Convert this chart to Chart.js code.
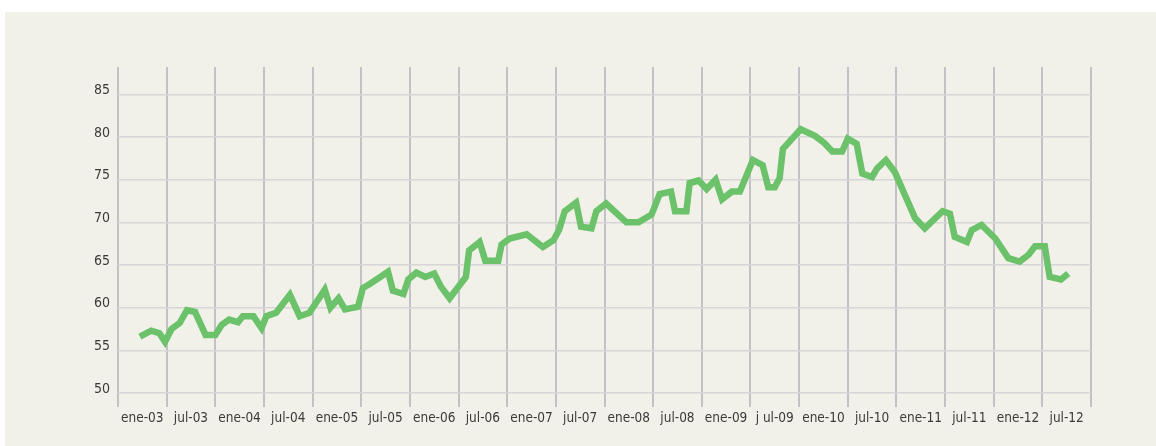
<!DOCTYPE html>
<html lang="es">
<head>
  <meta charset="UTF-8">
  <title>Serie mensual 2003-2012</title>
  <script src="https://cdn.jsdelivr.net/npm/chart.js"></script>
  <style>
    body {
      margin: 0;
      background-color: #fff;
      width: 1156px;
      height: 446px;
      overflow: hidden;
    }
    #panel {
      position: absolute;
      left: 5px;
      top: 12px;
      width: 1151px;
      height: 434px;
      background-color: #f2f1e9;
    }
  </style>
</head>
<body>
  <div id="panel">
    <canvas id="chart" width="1151" height="434"></canvas>
  </div>

  <script>
    // months since ene-03 (axis runs 0..120, one gridline every 6 months)
    const months = [
      2.7, 4.1, 5.1, 5.8, 6.6, 7.6, 8.5, 9.5, 10.8, 12.0,
      12.8, 13.7, 14.8, 15.4, 16.7, 17.7, 18.3, 19.5, 21.2, 22.4,
      23.6, 25.5, 26.2, 27.2, 28.0, 29.6, 30.2, 31.1, 33.3, 33.9,
      35.2, 35.8, 36.8, 37.9, 39.0, 39.8, 40.9, 42.9, 43.3, 44.6,
      45.3, 46.9, 47.3, 48.3, 50.4, 52.4, 53.7, 54.4, 55.1, 56.5,
      57.1, 58.4, 59.0, 60.2, 62.7, 64.2, 65.8, 66.8, 68.2, 68.7,
      70.1, 70.5, 71.6, 72.6, 73.7, 74.5, 75.7, 76.7, 78.3, 79.5,
      80.2, 81.0, 81.6, 82.0, 84.2, 86.0, 87.1, 88.1, 89.3, 90.0,
      91.1, 91.8, 93.0, 93.6, 94.7, 95.8, 98.3, 99.5, 101.7, 102.6,
      103.2, 104.7, 105.3, 106.5, 108.2, 109.8, 111.2, 112.3, 113.1, 114.3,
      114.9, 116.3, 117.2
    ];
    const values = [
      56.6, 57.3, 57.0, 56.0, 57.5, 58.2, 59.7, 59.5, 56.8, 56.8,
      58.0, 58.6, 58.3, 59.0, 59.0, 57.6, 59.0, 59.4, 61.5, 59.0,
      59.4, 62.1, 60.0, 61.1, 59.8, 60.1, 62.3, 62.8, 64.2, 62.0,
      61.6, 63.3, 64.1, 63.6, 64.0, 62.5, 61.1, 63.6, 66.7, 67.7,
      65.5, 65.5, 67.4, 68.1, 68.6, 67.1, 67.9, 69.1, 71.3, 72.3,
      69.5, 69.3, 71.3, 72.2, 70.0, 70.0, 70.9, 73.3, 73.6, 71.3,
      71.3, 74.6, 74.9, 73.9, 75.0, 72.7, 73.6, 73.6, 77.3, 76.7,
      74.1, 74.1, 75.2, 78.6, 80.9, 80.1, 79.3, 78.3, 78.3, 79.8,
      79.2, 75.7, 75.3, 76.3, 77.3, 75.9, 70.5, 69.3, 71.3, 71.0,
      68.3, 67.7, 69.1, 69.7, 68.1, 65.8, 65.4, 66.2, 67.2, 67.2,
      63.6, 63.3, 64.0
    ];
    const xLabels = [
      'ene-03', 'jul-03', 'ene-04', 'jul-04', 'ene-05', 'jul-05', 'ene-06', 'jul-06',
      'ene-07', 'jul-07', 'ene-08', 'jul-08', 'ene-09', 'j ul-09', 'ene-10', 'jul-10',
      'ene-11', 'jul-11', 'ene-12', 'jul-12'
    ];
    const yTicks = [50, 55, 60, 65, 70, 75, 80, 85];

    const FONT = "'Liberation Sans Narrow', 'DejaVu Sans Condensed', sans-serif";
    const points = months.map((m, i) => ({ x: m, y: values[i] }));

    new Chart(document.getElementById('chart'), {
      type: 'line',
      data: {
        datasets: [{
          data: points,
          borderColor: '#6bc26a',
          borderWidth: 6.5,
          pointRadius: 0,
          tension: 0,
          fill: false
        }]
      },
      options: {
        responsive: false,
        animation: false,
        layout: { padding: { left: 0, top: 55, right: 65, bottom: 0 } },
        plugins: {
          legend: { display: false },
          tooltip: { enabled: false }
        },
        scales: {
          x: {
            type: 'linear',
            min: 0,
            max: 120,
            afterFit: axis => { axis.height = 53; },
            afterBuildTicks: axis => {
              axis.ticks = [];
              for (let v = 0; v <= 120; v += 6) axis.ticks.push({ value: v });
            },
            border: { display: false },
            grid: {
              color: '#c2c2c6',
              lineWidth: 2,
              tickLength: 14,
              tickColor: '#c2c2c6',
              tickWidth: 2
            },
            ticks: {
              autoSkip: false,
              maxRotation: 0,
              labelOffset: 24.3,
              padding: 3,
              color: '#3a3a3a',
              font: { family: FONT, size: 13.5 },
              callback: (v, i) => xLabels[i] || ''
            }
          },
          y: {
            min: 50,
            max: 88.2,
            afterFit: axis => { axis.width = 113; },
            afterBuildTicks: axis => {
              axis.ticks = yTicks.map(v => ({ value: v }));
            },
            border: { display: false },
            grid: {
              color: '#d6d6d6',
              lineWidth: 1.5,
              drawTicks: false
            },
            ticks: {
              padding: 8,
              labelOffset: -4,
              color: '#3a3a3a',
              font: { family: FONT, size: 14 }
            }
          }
        }
      }
    });
  </script>
</body>
</html>
